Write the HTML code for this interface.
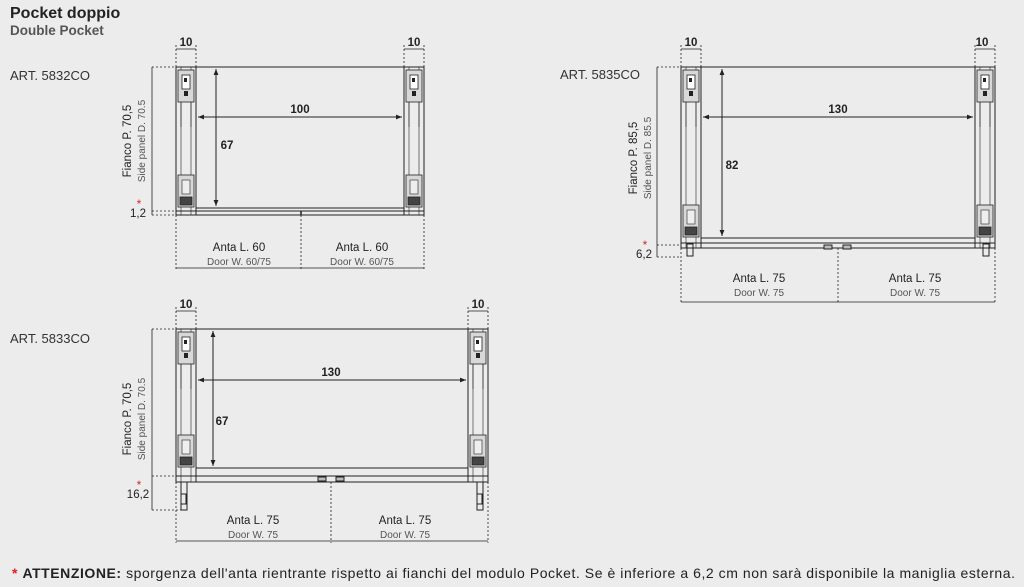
<!DOCTYPE html>
<html><head><meta charset="utf-8"><style>
html,body{margin:0;padding:0;background:#ececec;}
body{width:1024px;height:587px;overflow:hidden;position:relative;font-family:"Liberation Sans",sans-serif;}
svg{position:absolute;left:0;top:0;}
text{font-family:"Liberation Sans",sans-serif;}
</style></head><body>
<svg width="1024" height="587" viewBox="0 0 1024 587" xmlns="http://www.w3.org/2000/svg">
<defs>
<marker id="a" viewBox="0 0 10 10" refX="10" refY="5" markerWidth="6" markerHeight="6" orient="auto-start-reverse"><path d="M0,1 L10,5 L0,9 z" fill="#222"/></marker>
<g id="hwT"><rect x="2" y="3" width="16" height="32" fill="#d8d8d8" stroke="#222" stroke-width="0.8"/><rect x="6" y="8" width="8" height="14" fill="#fff" stroke="#222" stroke-width="0.8"/><rect x="8" y="11" width="3" height="4" fill="#222"/><rect x="8" y="24" width="4" height="5" fill="#222"/><line x1="5" y1="35" x2="5" y2="60" stroke="#222" stroke-width="0.6"/><line x1="15" y1="35" x2="15" y2="60" stroke="#222" stroke-width="0.6"/></g>
<g id="hwB"><rect x="2" y="0" width="16" height="32" fill="#d8d8d8" stroke="#222" stroke-width="0.8"/><rect x="4" y="22" width="12" height="8" fill="#444" stroke="#222" stroke-width="0.8"/><rect x="6" y="5" width="8" height="14" fill="#eee" stroke="#222" stroke-width="0.6"/></g>
</defs>
<g fill="#222">
<text x="10" y="18" font-size="16" font-weight="bold">Pocket doppio</text>
<text x="10" y="35" font-size="13.5" font-weight="bold" fill="#555">Double Pocket</text>
<text x="10" y="80" font-size="13" fill="#333">ART. 5832CO</text>
<text x="560" y="79" font-size="13" fill="#333">ART. 5835CO</text>
<text x="10" y="343" font-size="13" fill="#333">ART. 5833CO</text>
</g>

<!-- Diagram 1 -->
<g stroke="#222" stroke-width="1" fill="none">
<rect x="176" y="67" width="20" height="148"/><line x1="181" y1="67" x2="181" y2="215" stroke-width="0.6"/><line x1="191" y1="67" x2="191" y2="215" stroke-width="0.6"/>
<rect x="404" y="67" width="20" height="148"/><line x1="409" y1="67" x2="409" y2="215" stroke-width="0.6"/><line x1="419" y1="67" x2="419" y2="215" stroke-width="0.6"/>
<line x1="196" y1="67" x2="404" y2="67"/>
<line x1="196" y1="208" x2="404" y2="208"/>
<line x1="176" y1="211" x2="424" y2="211"/><line x1="176" y1="215" x2="424" y2="215"/>
<line x1="301" y1="211" x2="301" y2="215" stroke-width="1.5"/>
<line x1="198" y1="117" x2="402" y2="117" marker-start="url(#a)" marker-end="url(#a)"/>
<line x1="216" y1="69" x2="216" y2="206" marker-start="url(#a)" marker-end="url(#a)"/>
<g stroke-dasharray="2,2" stroke-width="0.8"><line x1="176" y1="215" x2="176" y2="270"/><line x1="301" y1="215" x2="301" y2="270"/><line x1="424" y1="215" x2="424" y2="270"/>
<line x1="152" y1="67" x2="176" y2="67"/><line x1="152" y1="215" x2="176" y2="215"/><line x1="152" y1="211" x2="176" y2="211"/>
<line x1="176" y1="45" x2="176" y2="67"/><line x1="196" y1="45" x2="196" y2="67"/><line x1="404" y1="45" x2="404" y2="67"/><line x1="424" y1="45" x2="424" y2="67"/></g>
<line x1="176" y1="268" x2="424" y2="268" stroke-width="0.8"/>
<line x1="152" y1="67" x2="152" y2="215" stroke-width="0.8"/>
<line x1="176" y1="49" x2="196" y2="49" stroke-width="0.8"/><line x1="404" y1="49" x2="424" y2="49" stroke-width="0.8"/>
</g>
<use href="#hwT" x="176" y="67"/><use href="#hwT" x="404" y="67"/><use href="#hwB" x="176" y="175"/><use href="#hwB" x="404" y="175"/>
<g font-size="11.5" fill="#222" text-anchor="middle">
<text x="186" y="46" font-weight="600">10</text><text x="414" y="46" font-weight="600">10</text>
<text x="300" y="113" font-weight="600">100</text>
<text x="227" y="149" font-weight="600">67</text>
<text x="239" y="251">Anta L. 60</text><text x="239" y="265" font-size="10" fill="#555">Door W. 60/75</text>
<text x="362" y="251">Anta L. 60</text><text x="362" y="265" font-size="10" fill="#555">Door W. 60/75</text>
<text x="138" y="217">1,2</text><text x="139" y="208" fill="#d22" font-size="12">*</text>
<text transform="translate(131,141) rotate(-90)">Fianco P. 70,5</text>
<text transform="translate(145,141) rotate(-90)" font-size="10" fill="#555">Side panel D. 70.5</text>
</g>

<!-- Diagram 2 -->
<g stroke="#222" stroke-width="1" fill="none">
<rect x="681" y="67" width="20" height="181"/><line x1="686" y1="67" x2="686" y2="248" stroke-width="0.6"/><line x1="696" y1="67" x2="696" y2="248" stroke-width="0.6"/>
<rect x="975" y="67" width="20" height="181"/><line x1="980" y1="67" x2="980" y2="248" stroke-width="0.6"/><line x1="990" y1="67" x2="990" y2="248" stroke-width="0.6"/>
<rect x="687" y="244" width="6" height="12"/><rect x="983" y="244" width="6" height="12"/>
<line x1="701" y1="67" x2="975" y2="67"/>
<line x1="701" y1="238" x2="975" y2="238"/>
<line x1="681" y1="243" x2="995" y2="243"/><line x1="681" y1="248" x2="995" y2="248"/>
<rect x="824" y="245" width="8" height="4" fill="#bbb"/><rect x="843" y="245" width="8" height="4" fill="#bbb"/>
<line x1="703" y1="117" x2="973" y2="117" marker-start="url(#a)" marker-end="url(#a)"/>
<line x1="722" y1="69" x2="722" y2="236" marker-start="url(#a)" marker-end="url(#a)"/>
<g stroke-dasharray="2,2" stroke-width="0.8"><line x1="681" y1="248" x2="681" y2="304"/><line x1="838" y1="248" x2="838" y2="304"/><line x1="995" y1="248" x2="995" y2="304"/>
<line x1="657" y1="67" x2="681" y2="67"/><line x1="657" y1="245" x2="681" y2="245"/><line x1="657" y1="257" x2="681" y2="257"/>
<line x1="681" y1="45" x2="681" y2="67"/><line x1="701" y1="45" x2="701" y2="67"/><line x1="975" y1="45" x2="975" y2="67"/><line x1="995" y1="45" x2="995" y2="67"/></g>
<line x1="681" y1="302" x2="995" y2="302" stroke-width="0.8"/>
<line x1="657" y1="67" x2="657" y2="257" stroke-width="0.8"/>
<line x1="681" y1="49" x2="701" y2="49" stroke-width="0.8"/><line x1="975" y1="49" x2="995" y2="49" stroke-width="0.8"/>
</g>
<use href="#hwT" x="681" y="67"/><use href="#hwT" x="975" y="67"/><use href="#hwB" x="681" y="205"/><use href="#hwB" x="975" y="205"/>
<g font-size="11.5" fill="#222" text-anchor="middle">
<text x="691" y="46" font-weight="600">10</text><text x="982" y="46" font-weight="600">10</text>
<text x="838" y="113" font-weight="600">130</text>
<text x="732" y="169" font-weight="600">82</text>
<text x="759" y="282">Anta L. 75</text><text x="759" y="296" font-size="10" fill="#555">Door W. 75</text>
<text x="915" y="282">Anta L. 75</text><text x="915" y="296" font-size="10" fill="#555">Door W. 75</text>
<text x="644" y="258">6,2</text><text x="645" y="249" fill="#d22" font-size="12">*</text>
<text transform="translate(637,158) rotate(-90)">Fianco P. 85,5</text>
<text transform="translate(651,158) rotate(-90)" font-size="10" fill="#555">Side panel D. 85.5</text>
</g>

<!-- Diagram 3 -->
<g stroke="#222" stroke-width="1" fill="none">
<rect x="176" y="329" width="20" height="153"/><line x1="181" y1="329" x2="181" y2="482" stroke-width="0.6"/><line x1="191" y1="329" x2="191" y2="482" stroke-width="0.6"/>
<rect x="468" y="329" width="20" height="153"/><line x1="473" y1="329" x2="473" y2="482" stroke-width="0.6"/><line x1="483" y1="329" x2="483" y2="482" stroke-width="0.6"/>
<rect x="181" y="482" width="6" height="28"/><rect x="477" y="482" width="6" height="28"/>
<rect x="181" y="494" width="5" height="10"/><rect x="477" y="494" width="5" height="10"/>
<line x1="196" y1="329" x2="468" y2="329"/>
<line x1="196" y1="468" x2="468" y2="468"/>
<line x1="176" y1="476" x2="488" y2="476"/><line x1="176" y1="482" x2="488" y2="482"/>
<rect x="318" y="477" width="8" height="4" fill="#bbb"/><rect x="336" y="477" width="8" height="4" fill="#bbb"/>
<line x1="198" y1="380" x2="466" y2="380" marker-start="url(#a)" marker-end="url(#a)"/>
<line x1="213" y1="331" x2="213" y2="466" marker-start="url(#a)" marker-end="url(#a)"/>
<g stroke-dasharray="2,2" stroke-width="0.8"><line x1="176" y1="482" x2="176" y2="543"/><line x1="331" y1="482" x2="331" y2="543"/><line x1="488" y1="482" x2="488" y2="543"/>
<line x1="152" y1="329" x2="176" y2="329"/><line x1="152" y1="476" x2="176" y2="476"/><line x1="152" y1="510" x2="181" y2="510"/>
<line x1="176" y1="307" x2="176" y2="329"/><line x1="196" y1="307" x2="196" y2="329"/><line x1="468" y1="307" x2="468" y2="329"/><line x1="488" y1="307" x2="488" y2="329"/></g>
<line x1="176" y1="541" x2="488" y2="541" stroke-width="0.8"/>
<line x1="152" y1="329" x2="152" y2="510" stroke-width="0.8"/>
<line x1="176" y1="311" x2="196" y2="311" stroke-width="0.8"/><line x1="468" y1="311" x2="488" y2="311" stroke-width="0.8"/>
</g>
<use href="#hwT" x="176" y="329"/><use href="#hwT" x="468" y="329"/><use href="#hwB" x="176" y="435"/><use href="#hwB" x="468" y="435"/>
<g font-size="11.5" fill="#222" text-anchor="middle">
<text x="186" y="308" font-weight="600">10</text><text x="478" y="308" font-weight="600">10</text>
<text x="331" y="376" font-weight="600">130</text>
<text x="222" y="425" font-weight="600">67</text>
<text x="253" y="524">Anta L. 75</text><text x="253" y="538" font-size="10" fill="#555">Door W. 75</text>
<text x="405" y="524">Anta L. 75</text><text x="405" y="538" font-size="10" fill="#555">Door W. 75</text>
<text x="138" y="498">16,2</text><text x="139" y="489" fill="#d22" font-size="12">*</text>
<text transform="translate(131,419) rotate(-90)">Fianco P. 70,5</text>
<text transform="translate(145,419) rotate(-90)" font-size="10" fill="#555">Side panel D. 70.5</text>
</g>

<text x="12" y="578" font-size="14" fill="#222" textLength="1003" lengthAdjust="spacing"><tspan fill="#d22" font-weight="bold">*</tspan> <tspan font-weight="bold">ATTENZIONE:</tspan> sporgenza dell'anta rientrante rispetto ai fianchi del modulo Pocket. Se è inferiore a 6,2 cm non sarà disponibile la maniglia esterna.</text>
</svg>
</body></html>
